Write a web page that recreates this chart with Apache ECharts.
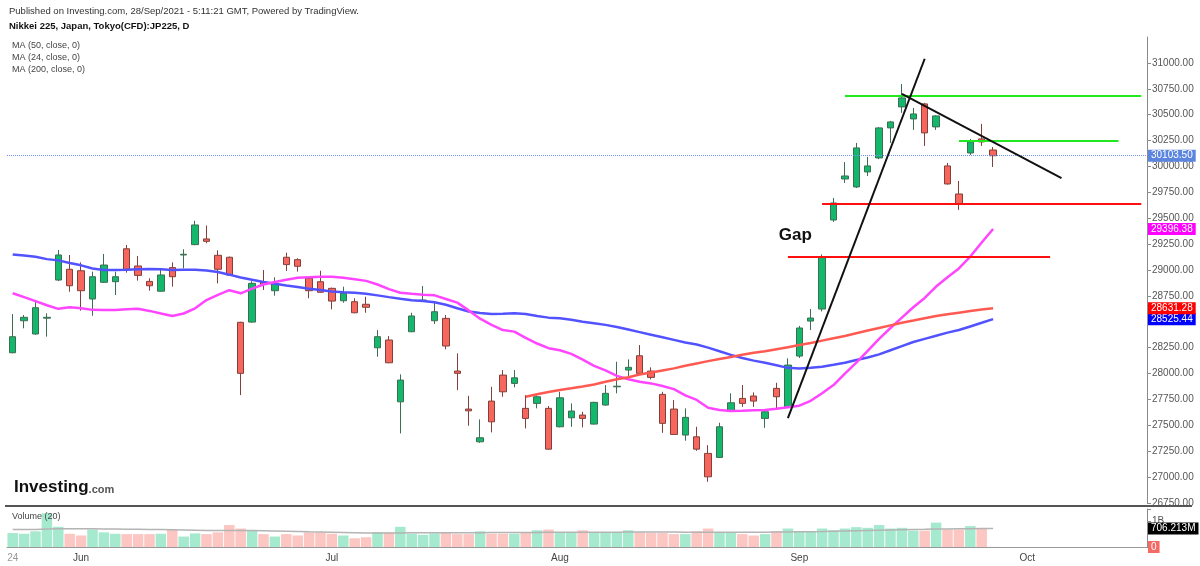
<!DOCTYPE html>
<html>
<head>
<meta charset="utf-8">
<title>Nikkei 225</title>
<script src="https://cdn.jsdelivr.net/npm/echarts@6/dist/echarts.min.js"></script>
<style>
  html, body { margin: 0; padding: 0; background: #fff; }
  #main { width: 1200px; height: 566px; }
</style>
</head>
<body>
<div id="main"></div>
<script>
// trading days (Japan holidays skipped), plus empty days to the right edge
var dates = [
  '05-24','05-25','05-26','05-27','05-28','05-31',
  '06-01','06-02','06-03','06-04','06-07','06-08','06-09','06-10','06-11','06-14','06-15','06-16','06-17','06-18',
  '06-21','06-22','06-23','06-24','06-25','06-28','06-29','06-30',
  '07-01','07-02','07-05','07-06','07-07','07-08','07-09','07-12','07-13','07-14','07-15','07-16','07-19','07-20','07-21',
  '07-26','07-27','07-28','07-29','07-30',
  '08-02','08-03','08-04','08-05','08-06','08-10','08-11','08-12','08-13','08-16','08-17','08-18','08-19','08-20',
  '08-23','08-24','08-25','08-26','08-27','08-30','08-31',
  '09-01','09-02','09-03','09-06','09-07','09-08','09-09','09-10','09-13','09-14','09-15','09-16','09-17',
  '09-21','09-22','09-24','09-27','09-28',
  '09-29','09-30','10-01','10-04','10-05','10-06','10-07','10-08','10-11','10-12','10-13','10-14','10-15'
];
var tickDates = ['05-24','06-01','06-09','06-17','07-01','07-09','07-19','08-02','08-11','08-19','09-01','09-09','09-17','10-01','10-11'];
var tickText = { '05-24': '24', '06-01': 'Jun', '07-01': 'Jul', '08-02': 'Aug', '09-01': 'Sep', '10-01': 'Oct' };

var opens = [28201,28510,28382,28535,28903,29007,28993,28720,28881,28887,
  29205,29039,28890,28795,29023,29145,29245,29300,29142,29123,
  28495,28497,28884,28800,29123,29100,28920,28887,28823,28703,
  28694,28669,28249,28324,27727,28404,28702,28510,28533,28024,
  27657,27341,27734,27985,27905,27664,27712,27664,27486,27573,
  27599,27512,27696,27872,28034,28172,28024,27799,27657,27406,
  27389,27229,27190,27641,27760,27783,27567,27857,27679,28169,
  28507,28623,29483,29879,29802,29947,30082,30372,30575,30459,
  30604,30382,30005,29734,30130,30266,30159];
var closes = [28356,28543,28636,28543,29145,28848,28800,28935,29048,28935,
  29007,28948,28848,28952,28935,29152,29435,29277,29007,28952,
  28002,28871,28862,28868,29052,29036,28800,28785,28700,28775,
  28587,28640,28356,28104,27937,28556,28710,28597,28266,28002,
  27640,27380,27534,27824,27959,27567,27776,27270,27766,27638,
  27567,27722,27809,27878,28060,28002,27963,27519,27412,27577,
  27270,27003,27486,27718,27712,27734,27631,27776,28082,28440,
  28536,29126,29647,29908,30179,30005,30372,30430,30662,30507,
  30324,30488,29831,29638,30237,30237,30103.5];
var lows = [28195,28437,28375,28356,28894,28790,28607,28558,28875,28758,
  28974,28897,28800,28790,28839,29016,29240,29258,28871,28945,
  27792,28490,28807,28752,28990,28984,28727,28780,28620,28684,
  28582,28587,28162,28100,27422,28400,28700,28478,28234,27840,
  27496,27331,27432,27776,27867,27470,27664,27265,27480,27486,
  27480,27508,27690,27809,27969,27998,27944,27428,27408,27351,
  27254,26955,27185,27636,27679,27679,27476,27657,27675,28150,
  28420,28600,29464,29841,29792,29908,30070,30227,30517,30353,
  30198,30353,29825,29580,30111,30198,29995];
var highs = [28575,28565,28703,28582,29193,29145,29074,28984,29155,28984,
  29242,29135,28920,29000,29074,29200,29475,29430,29190,29130,
  28500,28892,29000,28930,29167,29113,28942,28993,28830,28839,
  28727,28742,28420,28362,27992,28587,28845,28694,28565,28195,
  27785,27557,27872,28034,28034,27792,27790,27686,27824,27712,
  27631,27727,27889,28114,28137,28275,28060,27824,27744,27664,
  27486,27309,27525,27809,27889,27818,27657,27911,28147,28460,
  28623,29150,29696,30043,30227,30092,30380,30440,30797,30565,
  30614,30495,30034,29860,30266,30411,30188];

// moving averages
var ma50 = [29150,29140,29128,29105,29093,29068,29045,29015,29000,29000,
  29003,29008,29010,29008,29000,29002,29003,28995,28980,28955,
  28928,28905,28885,28868,28850,28835,28820,28806,28792,28784,
  28780,28770,28755,28738,28722,28708,28700,28688,28665,28630,
  28600,28585,28575,28578,28582,28575,28555,28540,28535,28520,
  28500,28485,28470,28450,28425,28400,28375,28350,28325,28300,
  28280,28250,28215,28180,28150,28125,28105,28080,28055,28050,
  28055,28066,28085,28105,28130,28155,28185,28225,28265,28305,
  28335,28365,28395,28420,28455,28490,28525.44];
var ma24 = [28775,28738,28700,28660,28625,28640,28630,28615,28613,28613,
  28620,28625,28605,28580,28556,28580,28630,28710,28760,28805,
  28775,28820,28860,28885,28905,28925,28930,28935,28935,28925,
  28910,28895,28860,28815,28780,28770,28762,28755,28720,28685,
  28610,28530,28470,28420,28405,28345,28290,28245,28225,28190,
  28135,28075,28030,27978,27945,27920,27905,27880,27850,27790,
  27745,27670,27648,27638,27640,27645,27648,27660,27675,27690,
  27737,27810,27889,28000,28105,28220,28335,28440,28540,28640,
  28730,28840,28930,29015,29130,29265,29396.38];
var ma200Start = 45;
var ma200 = [27776,27800,27822,27842,27858,
  27875,27895,27920,27945,27965,27990,28010,28030,28050,28075,
  28098,28120,28140,28160,28182,28200,28215,28235,28255,28275,
  28295,28318,28340,28362,28390,28415,28440,28465,28490,28512,
  28535,28555,28572,28588,28603,28618,28631.28];

// volume in millions
var volumes = [532,505,599,1290,771,505,439,665,559,505,
  492,492,492,505,665,399,519,492,559,838,
  705,625,492,399,492,439,559,559,505,439,
  333,372,572,559,771,505,466,519,559,492,
  492,599,505,505,505,559,638,665,559,559,
  638,559,559,559,638,559,532,532,492,492,
  599,705,559,559,492,439,492,599,705,599,
  572,705,638,705,758,732,838,705,732,625,
  625,931,665,665,798,705,4];
var volMa = [665,668,670,690,700,700,700,695,690,685,
  680,675,670,665,660,650,640,630,625,625,
  625,630,620,610,600,590,580,575,565,555,
  545,535,530,530,535,540,545,545,545,545,
  545,548,550,550,552,555,558,560,560,560,
  562,565,565,565,568,570,570,570,568,565,
  565,565,565,565,565,565,565,570,575,580,
  585,590,600,610,620,630,640,650,660,668,
  675,685,690,695,700,704,706.213];

var lastPrice = 30103.5;
var maNames = ['MA (50, close, 0)', 'MA (24, close, 0)', 'MA (200, close, 0)'];

var FONT = '"Liberation Sans", Arial, sans-serif';

document.addEventListener('DOMContentLoaded', function () {
  var myChart = echarts.init(document.getElementById('main'));

  var candles = opens.map(function (o, i) { return [o, closes[i], lows[i], highs[i]]; });
  var ma200Full = [];
  for (var i = 0; i < ma200Start; i++) ma200Full.push('-');
  ma200Full = ma200Full.concat(ma200);

  var volData = volumes.map(function (v, i) {
    var up = closes[i] >= opens[i];
    return { value: v, itemStyle: { color: up ? '#a5e9cf' : '#fcc6c3' } };
  });

  // price marker box on the axis (invisible line, visible label)
  function axisBox(value, text, bg) {
    return {
      yAxis: value,
      lineStyle: { color: 'rgba(255,255,255,0)', width: 0 },
      label: {
        show: true, position: 'end', distance: 1, formatter: text,
        color: '#fff', backgroundColor: bg, padding: [1, 3, 1, 3],
        fontSize: 10, fontFamily: FONT
      }
    };
  }
  // drawn trend lines
  function seg(a, b, color) {
    var ls = { color: color, width: 2, type: 'solid' };
    return [{ coord: a, lineStyle: ls }, { coord: b, lineStyle: ls }];
  }

  var option = {
    animation: false,
    backgroundColor: '#fff',
    textStyle: { fontFamily: FONT },
    title: [
      { text: 'Published on Investing.com, 28/Sep/2021 - 5:11:21 GMT, Powered by TradingView.',
        left: 9, top: 6, padding: 0,
        textStyle: { fontSize: 9.5, fontWeight: 'normal', color: '#333', fontFamily: FONT } },
      { text: 'Nikkei 225, Japan, Tokyo(CFD):JP225, D',
        left: 9, top: 21, padding: 0,
        textStyle: { fontSize: 9.5, fontWeight: 'bold', color: '#111', fontFamily: FONT } },
      { text: maNames.join('\n'), left: 12, top: 40, padding: 0,
        textStyle: { fontSize: 9, lineHeight: 12, fontWeight: 'normal', color: '#444', fontFamily: FONT } },
      { text: 'Volume (20)', left: 12, top: 512, padding: 0,
        textStyle: { fontSize: 9, fontWeight: 'normal', color: '#444', fontFamily: FONT } },
      { text: '{a|Investing}{b|.com}', left: 14, top: 479, padding: 0,
        textStyle: { rich: {
          a: { fontSize: 17, fontWeight: 'bold', color: '#111', fontFamily: FONT },
          b: { fontSize: 11, color: '#555', fontFamily: FONT, padding: [4, 0, 0, 0] }
        } } }
    ],
    graphic: [
      { type: 'line', shape: { x1: 5, y1: 506, x2: 1192, y2: 506 },
        style: { stroke: '#555', lineWidth: 2 }, z: 10 }
    ],
    grid: [
      { left: 7, right: 53, top: 37, height: 466 },
      { left: 7, right: 53, top: 509, height: 38 }
    ],
    xAxis: [
      { type: 'category', gridIndex: 0, data: dates, boundaryGap: true, show: false },
      { type: 'category', gridIndex: 1, data: dates, boundaryGap: true,
        axisLine: { lineStyle: { color: '#999' } },
        axisTick: { alignWithLabel: true, length: 4, lineStyle: { color: '#999' },
          interval: function (i, v) { return tickDates.indexOf(v) >= 0; } },
        axisLabel: {
          interval: function (i, v) { return tickText[v] !== undefined; },
          formatter: function (v) {
            var t = tickText[v];
            if (!t) return '';
            return t.length > 2 ? '{m|' + t + '}' : '{d|' + t + '}';
          },
          margin: 6,
          rich: {
            m: { fontSize: 10, color: '#444', fontFamily: FONT },
            d: { fontSize: 10, color: '#999', fontFamily: FONT }
          }
        }
      }
    ],
    yAxis: [
      { type: 'value', gridIndex: 0, position: 'right', min: 26750, max: 31250, interval: 250,
        axisLine: { show: true, lineStyle: { color: '#8a8a8a' } },
        axisTick: { show: true, length: 4, lineStyle: { color: '#8a8a8a' } },
        splitLine: { show: false },
        axisLabel: { fontSize: 10, color: '#555', margin: 5, showMaxLabel: false,
          formatter: function (v) { return v === 28500 ? '' : v.toFixed(2); } } },
      { type: 'value', gridIndex: 1, position: 'right', min: 0, max: 1450, interval: 1000,
        axisLine: { show: true, lineStyle: { color: '#8a8a8a' } },
        axisTick: { show: true, length: 4, lineStyle: { color: '#8a8a8a' } },
        splitLine: { show: false },
        axisLabel: { fontSize: 10, color: '#555', margin: 5,
          formatter: function (v) { return v === 1000 ? '1B' : ''; } } }
    ],
    series: [
      {
        name: 'JP225', type: 'candlestick', xAxisIndex: 0, yAxisIndex: 0,
        data: candles, barWidth: 7,
        itemStyle: { color: '#13b86d', color0: '#f6665c',
          borderColor: '#3b6e52', borderColor0: '#83403a', borderWidth: 1 },
        markLine: {
          silent: true, symbol: ['none', 'none'], animation: false,
          label: { show: false },
          data: [
            { yAxis: lastPrice,
              lineStyle: { color: '#6f92f2', width: 1, type: 'dotted' },
              label: { show: true, position: 'end', distance: 1, formatter: '30103.50',
                color: '#fff', backgroundColor: '#5c85e0', padding: [1, 3, 1, 3],
                fontSize: 10, fontFamily: FONT } },
            seg([73, 30680], [99, 30680], '#22e822'),
            seg([83, 30246], [97, 30246], '#22e822'),
            seg([71, 29638], [99, 29638], '#ff1010'),
            seg([68, 29126], [91, 29126], '#ff1010'),
            seg([68, 27570], [80, 31040], '#111'),
            seg([78, 30700], [92, 29888], '#111')
          ]
        },
        markPoint: {
          silent: true, animation: false,
          data: [{ coord: [69, 29338], symbol: 'circle', symbolSize: 1,
            itemStyle: { color: 'rgba(0,0,0,0)' },
            label: { show: true, formatter: 'Gap', position: 'inside', offset: [-4, 0],
              fontSize: 17, fontWeight: 'bold', color: '#111', fontFamily: FONT } }]
        }
      },
      {
        name: 'MA50', type: 'line', xAxisIndex: 0, yAxisIndex: 0, data: ma50,
        showSymbol: false, silent: true, lineStyle: { color: '#5252ff', width: 2.5 },
        markLine: { silent: true, symbol: ['none', 'none'], data: [axisBox(28525.44, '28525.44', '#0000ff')] }
      },
      {
        name: 'MA24', type: 'line', xAxisIndex: 0, yAxisIndex: 0, data: ma24,
        showSymbol: false, silent: true, lineStyle: { color: '#ff45ff', width: 2.5 },
        markLine: { silent: true, symbol: ['none', 'none'], data: [axisBox(29396.38, '29396.38', '#ff00ff')] }
      },
      {
        name: 'MA200', type: 'line', xAxisIndex: 0, yAxisIndex: 0, data: ma200Full,
        showSymbol: false, silent: true, lineStyle: { color: '#ff5a52', width: 2.5 },
        markLine: { silent: true, symbol: ['none', 'none'], data: [axisBox(28631.28, '28631.28', '#ff0000')] }
      },
      {
        name: 'Volume', type: 'bar', xAxisIndex: 1, yAxisIndex: 1, data: volData,
        barCategoryGap: '8%', silent: true,
        markLine: { silent: true, symbol: ['none', 'none'], data: [axisBox(0, '0', '#f46a64')] }
      },
      {
        name: 'Volume MA', type: 'line', xAxisIndex: 1, yAxisIndex: 1, data: volMa,
        showSymbol: false, silent: true, lineStyle: { color: '#b4b4b4', width: 1.5 },
        markLine: { silent: true, symbol: ['none', 'none'], data: [axisBox(706.213, '706.213M', '#000')] }
      }
    ]
  };
  myChart.setOption(option);
});
</script>
</body>
</html>
